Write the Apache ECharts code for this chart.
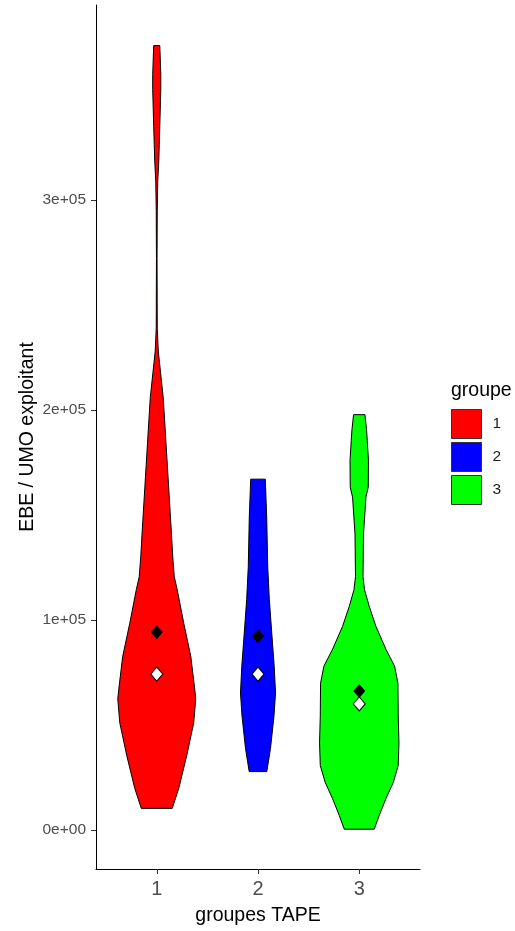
<!DOCTYPE html>
<html>
<head>
<meta charset="utf-8">
<script src="https://cdn.jsdelivr.net/npm/echarts@6/dist/echarts.min.js"></script>
<style>
html,body{margin:0;padding:0;background:#fff;}
#c{width:515px;height:931px;}
</style>
</head>
<body>
<div id="c"></div>
<script>
// ---- data ----
const categories = ['1', '2', '3'];
const groupColors = ['#FF0000', '#0000FF', '#00FF00'];
// violin outlines: EBE/UMO value and half-width (in x-axis units)
const violin1Y = [373500, 359700, 352600, 335100, 326500, 318500, 309000, 294800, 272100, 239000, 228100, 205900, 174200, 142900, 130100, 120700, 114500, 98400, 82800, 67200, 62500, 51100, 35500, 19900, 10400];
const violin1W = [0.030, 0.040, 0.040, 0.030, 0.025, 0.020, 0.010, 0.005, 0.003, 0.005, 0.015, 0.064, 0.104, 0.143, 0.158, 0.173, 0.202, 0.267, 0.336, 0.375, 0.385, 0.365, 0.296, 0.217, 0.153];
const violin2Y = [167100, 149100, 125400, 109800, 93700, 78100, 65300, 54400, 38800, 27900];
const violin2W = [0.072, 0.086, 0.096, 0.112, 0.136, 0.160, 0.173, 0.158, 0.123, 0.087];
const violin3Y = [197800, 190700, 185500, 176100, 163300, 158500, 141000, 120700, 114500, 106500, 97000, 86100, 78100, 70000, 54400, 41600, 30800, 22700, 15100, 7100, 500];
const violin3W = [0.056, 0.072, 0.079, 0.091, 0.089, 0.066, 0.042, 0.037, 0.052, 0.099, 0.165, 0.264, 0.349, 0.382, 0.385, 0.392, 0.385, 0.336, 0.264, 0.198, 0.148];
const meanValues = [94200, 92300, 66300];     // black diamonds
const medianValues = [74300, 74300, 60100];   // white diamonds
const yTickValues = [0, 100000, 200000, 300000];
const yTickLabels = ['0e+00', '1e+05', '2e+05', '3e+05'];
const xTickValues = [1, 2, 3];

const profilesY = [violin1Y, violin2Y, violin3Y];
const profilesW = [violin1W, violin2W, violin3W];

const chart = echarts.init(document.getElementById('c'), null, {renderer: 'canvas'});
const FONT = 'Liberation Sans, Arial, sans-serif';

const violinSeries = categories.map((name, i) => ({
  type: 'custom',
  name: name,
  color: groupColors[i],
  itemStyle: {color: groupColors[i], borderColor: '#000', borderWidth: 1},
  data: [[i + 1, profilesY[i][0]]],
  z: 2,
  renderItem: function (params, api) {
    const c = i + 1;
    const Y = profilesY[i], W = profilesW[i];
    const right = Y.map((v, k) => api.coord([c + W[k], v]));
    const left = Y.map((v, k) => api.coord([c - W[k], v])).reverse();
    return {
      type: 'polygon',
      shape: {points: right.concat(left)},
      style: {fill: groupColors[i], stroke: '#000', lineWidth: 1}
    };
  }
}));

const option = {
  animation: false,
  backgroundColor: '#fff',
  grid: {left: 96, right: 95, top: 5, bottom: 57, containLabel: false},
  legend: {
    data: categories,
    orient: 'vertical',
    left: 451,
    top: 409,
    itemWidth: 30,
    itemHeight: 29,
    itemGap: 3,
    icon: 'rect',
    padding: 0,
    itemStyle: {borderColor: '#333', borderWidth: 1},
    textStyle: {fontFamily: FONT, fontSize: 15.5, color: '#1a1a1a', padding: [0, 0, 0, 6]},
    selectedMode: false
  },
  graphic: [{
    type: 'text',
    left: 451,
    top: 381,
    style: {text: 'groupe', fontFamily: FONT, fontSize: 19.5, fill: '#000'}
  }],
  xAxis: {
    type: 'value',
    min: 0.4,
    max: 3.6,
    name: 'groupes TAPE',
    nameLocation: 'middle',
    nameGap: 37,
    nameMoveOverlap: false,
    nameTextStyle: {fontFamily: FONT, fontSize: 19.5, color: '#000'},
    splitLine: {show: false},
    axisLine: {show: true, onZero: false, lineStyle: {color: '#000', width: 1}},
    axisTick: {show: true, length: 5, customValues: xTickValues, lineStyle: {color: '#333'}},
    axisLabel: {show: true, customValues: xTickValues, margin: 10, fontFamily: FONT, fontSize: 20, color: '#4D4D4D',
      formatter: v => categories[Math.round(v) - 1]}
  },
  yAxis: {
    type: 'value',
    min: -18460,
    max: 392800,
    name: 'EBE / UMO exploitant',
    nameLocation: 'middle',
    nameGap: 58,
    nameMoveOverlap: false,
    nameTextStyle: {fontFamily: FONT, fontSize: 19.5, color: '#000'},
    splitLine: {show: false},
    axisLine: {show: true, onZero: false, lineStyle: {color: '#000', width: 1}},
    axisTick: {show: true, length: 5, customValues: yTickValues, lineStyle: {color: '#333'}},
    axisLabel: {show: true, customValues: yTickValues, margin: 10, fontFamily: FONT, fontSize: 15.5, color: '#4D4D4D',
      formatter: v => yTickLabels[yTickValues.indexOf(v)]}
  },
  series: violinSeries.concat([
    {
      type: 'scatter',
      name: 'mean',
      symbol: 'diamond',
      symbolSize: [12, 14],
      itemStyle: {color: '#000', opacity: 1},
      data: xTickValues.map((x, i) => [x, meanValues[i]]),
      z: 5
    },
    {
      type: 'scatter',
      name: 'median',
      symbol: 'diamond',
      symbolSize: [12, 14],
      itemStyle: {color: '#fff', borderColor: '#000', borderWidth: 1, opacity: 1},
      data: xTickValues.map((x, i) => [x, medianValues[i]]),
      z: 5
    }
  ])
};
chart.setOption(option);
</script>
</body>
</html>
